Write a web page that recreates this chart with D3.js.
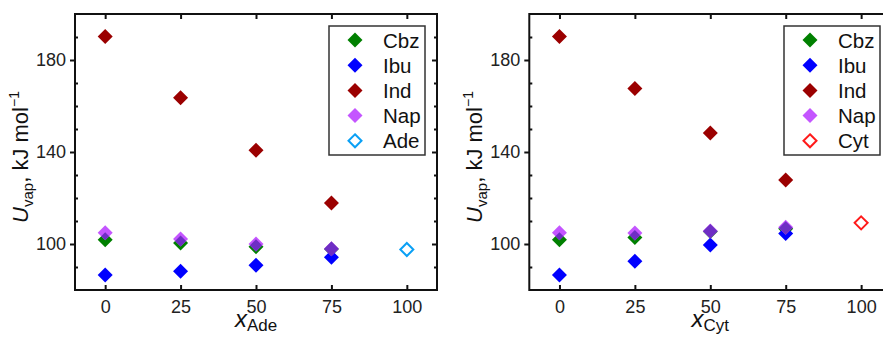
<!DOCTYPE html>
<html>
<head>
<meta charset="utf-8">
<script src="https://cdn.jsdelivr.net/npm/d3@7"></script>
<style>
  body { margin: 0; background: white; }
  svg { display: block; font-family: "Liberation Sans", Arial, sans-serif; }
</style>
</head>
<body>
<script>
// x positions (mole fraction, %)
const xVals = [0, 25, 50, 75];
const xTicks = [0, 25, 50, 75, 100];
const yMajor = [100, 140, 180];
const yMinor = [90, 110, 120, 130, 150, 160, 170, 190];

// left panel: Ade
const adeCbz = [101.8, 100.4, 98.8, 97.8];
const adeIbu = [86.5, 88.2, 90.8, 94.2];
const adeInd = [190.2, 163.6, 140.8, 117.8];
const adeNap = [104.9, 102.2, 100.0, 97.9];
const adePure = [97.6];

// right panel: Cyt
const cytCbz = [101.8, 102.8, 105.4, 106.6];
const cytIbu = [86.5, 92.5, 99.6, 104.6];
const cytInd = [190.2, 167.6, 148.3, 127.8];
const cytNap = [104.9, 104.8, 105.7, 107.3];
const cytPure = [109.2];

const colors = {Cbz: "#008000", Ibu: "#0000ff", Ind: "#9b0000", Nap: "#c455ff", Ade: "#0aa0f5", Cyt: "#ff1a1a"};
const overlapColor = "#6e2ec4";

const svg = d3.select("body").append("svg")
    .attr("width", 883).attr("height", 338);

const diamond = (cx, cy, r) => `M${cx},${cy - r}L${cx + r},${cy}L${cx},${cy + r}L${cx - r},${cy}Z`;

function panel(opt) {
  const x = d3.scaleLinear().domain([-10, 110]).range([opt.left, opt.left + 362]);
  const y = d3.scaleLinear().domain([80, 200]).range([290, 14]);
  const g = svg.append("g");
  const R = 7.5;

  // axes
  g.append("g").attr("transform", `translate(0,290)`)
    .call(d3.axisBottom(x).tickValues(xTicks).tickSizeInner(-5).tickSizeOuter(0).tickPadding(10))
    .call(a => a.select(".domain").remove());
  g.append("g").attr("transform", `translate(0,14)`)
    .call(d3.axisTop(x).tickValues(xTicks).tickSizeInner(-5).tickSizeOuter(0).tickFormat(""))
    .call(a => a.select(".domain").remove());
  g.append("g").attr("transform", `translate(${x(-10)},0)`)
    .call(d3.axisLeft(y).tickValues(yMajor).tickSizeInner(5).tickSizeOuter(0).tickPadding(4))
    .call(a => a.select(".domain").remove());
  g.append("g").attr("transform", `translate(${x(-10)},0)`)
    .call(d3.axisRight(y).tickValues(yMinor).tickSizeInner(3).tickSizeOuter(0).tickFormat(""))
    .call(a => a.select(".domain").remove());
  g.append("g").attr("transform", `translate(${x(110)},0)`)
    .call(d3.axisLeft(y).tickValues(yMajor).tickSizeInner(5).tickSizeOuter(0).tickFormat(""))
    .call(a => a.select(".domain").remove());
  g.append("g").attr("transform", `translate(${x(110)},0)`)
    .call(d3.axisLeft(y).tickValues(yMinor).tickSizeInner(3).tickSizeOuter(0).tickFormat(""))
    .call(a => a.select(".domain").remove());
  g.selectAll(".tick line").attr("stroke", "#111").attr("stroke-width", 2);
  g.selectAll(".tick text").attr("font-size", 18).attr("fill", "#222")
    .attr("font-family", "Liberation Sans, Arial, sans-serif");

  // frame
  g.append("rect")
    .attr("x", x(-10)).attr("y", 14)
    .attr("width", x(110) - x(-10)).attr("height", 276)
    .attr("fill", "none").attr("stroke", "#111").attr("stroke-width", 2);

  const series = [
    {name: "Cbz", vals: opt.cbz},
    {name: "Ibu", vals: opt.ibu},
    {name: "Ind", vals: opt.ind},
    {name: "Nap", vals: opt.nap}
  ];
  series.forEach(s => {
    g.append("g").selectAll("path").data(s.vals).join("path")
      .attr("d", (d, i) => diamond(x(xVals[i]), y(d), R))
      .attr("fill", colors[s.name]);
  });

  // darker where Nap overlaps Cbz
  const ov = g.append("g");
  opt.nap.forEach((d, i) => {
    const id = `clip-${opt.pure}-${i}`;
    ov.append("clipPath").attr("id", id)
      .append("path").attr("d", diamond(x(xVals[i]), y(opt.cbz[i]), R));
    ov.append("path")
      .attr("d", diamond(x(xVals[i]), y(d), R))
      .attr("clip-path", `url(#${id})`)
      .attr("fill", overlapColor);
  });

  // pure compound (open)
  g.append("g").selectAll("path").data(opt.pureVals).join("path")
    .attr("d", d => diamond(x(100), y(d), 6.5))
    .attr("fill", "white").attr("stroke", colors[opt.pure]).attr("stroke-width", 2);

  // legend
  const lg = g.append("g");
  lg.append("rect")
    .attr("x", opt.legX).attr("y", 26)
    .attr("width", 96).attr("height", 129)
    .attr("fill", "white").attr("stroke", "#333").attr("stroke-width", 1.5);
  const names = ["Cbz", "Ibu", "Ind", "Nap", opt.pure];
  names.forEach((n, i) => {
    const cy = 40 + i * 25.2;
    const open = i === 4;
    lg.append("path")
      .attr("d", diamond(opt.legX + 26, cy, open ? 6.5 : 7.5))
      .attr("fill", open ? "white" : colors[n])
      .attr("stroke", open ? colors[n] : "none")
      .attr("stroke-width", 2);
    lg.append("text")
      .attr("x", opt.legX + 54).attr("y", cy + 7.5)
      .attr("font-size", 20.5).attr("fill", "#111")
      .text(n);
  });

  // y label
  const yl = g.append("text")
    .attr("transform", `translate(${x(-10) - 47},157) rotate(-90)`)
    .attr("text-anchor", "middle").attr("font-size", 22).attr("fill", "#111");
  yl.append("tspan").attr("font-style", "italic").text("U");
  yl.append("tspan").attr("font-size", 15).attr("dy", 5).text("vap");
  yl.append("tspan").attr("dy", -5).text(", kJ mol");
  yl.append("tspan").attr("font-size", 14).attr("dy", -9).text("\u22121");

  // x label
  const xl = g.append("text")
    .attr("x", (x(-10) + x(110)) / 2).attr("y", 327)
    .attr("text-anchor", "middle").attr("font-size", 24).attr("fill", "#111");
  xl.append("tspan").attr("font-style", "italic").text("x");
  xl.append("tspan").attr("font-size", 17).attr("dy", 4).text(opt.pure);
}

panel({left: 75, cbz: adeCbz, ibu: adeIbu, ind: adeInd, nap: adeNap, pure: "Ade", pureVals: adePure, legX: 329});
panel({left: 529.3, cbz: cytCbz, ibu: cytIbu, ind: cytInd, nap: cytNap, pure: "Cyt", pureVals: cytPure, legX: 784});
</script>
</body>
</html>
